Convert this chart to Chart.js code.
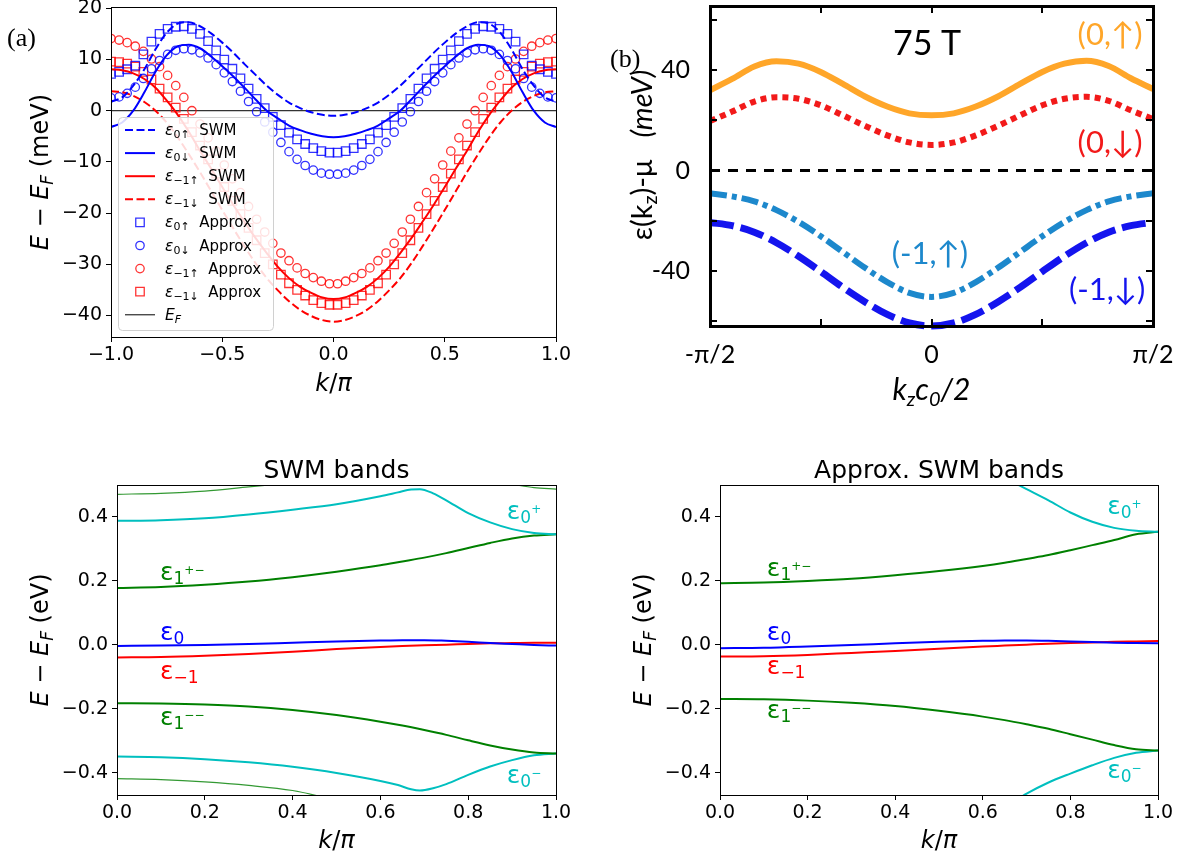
<!DOCTYPE html>
<html>
<head>
<meta charset="utf-8">
<title>Band panels</title>
<script src="https://cdn.jsdelivr.net/npm/chart.js@4.4.1/dist/chart.umd.min.js"></script>
<style>
  html, body { margin: 0; padding: 0; background: #fff; }
  body { position: relative; width: 1192px; height: 857px; overflow: hidden; }
  canvas { position: absolute; }
  #panelA { left: 0; top: 0; }
  #panelB { left: 600px; top: 0; }
  #panelC { left: 0; top: 440px; }
  #panelD { left: 600px; top: 440px; }
</style>
</head>
<body>
<canvas id="panelA" width="596" height="420"></canvas>
<canvas id="panelB" width="592" height="420"></canvas>
<canvas id="panelC" width="596" height="417"></canvas>
<canvas id="panelD" width="592" height="417"></canvas>
<script>
(function () {
  "use strict";

  /* ===== Panel (a) data: k/pi, meV ===== */
  var A_K_LINE = [-1, -0.95, -0.9, -0.85, -0.8, -0.75, -0.7, -0.65, -0.6, -0.55, -0.5, -0.45, -0.4, -0.35, -0.3, -0.25, -0.2, -0.15, -0.1, -0.05,
    0, 0.05, 0.1, 0.15, 0.2, 0.25, 0.3, 0.35, 0.4, 0.45, 0.5, 0.55, 0.6, 0.65, 0.7, 0.75, 0.8, 0.85, 0.9, 0.95, 1];
  var A_E0UP_SWM = [1.8, 2.6, 4.9, 8.1, 12.0, 15.2, 17.0, 17.3, 16.5, 15.1, 13.3, 11.3, 9.1, 7.0, 4.9, 3.1, 1.6, 0.5, -0.3, -0.8,
    -1.0, -0.8, -0.3, 0.5, 1.6, 3.1, 4.9, 7.0, 9.1, 11.3, 13.3, 15.1, 16.5, 17.3, 17.0, 15.2, 12.0, 8.1, 4.9, 2.6, 1.8];
  var A_E0DN_SWM = [-3.2, -2.3, 0.0, 3.6, 7.6, 10.8, 12.6, 12.9, 12.2, 10.6, 8.7, 6.7, 4.5, 2.2, 0.0, -1.5, -2.9, -3.8, -4.5, -5.0,
    -5.2, -5.0, -4.5, -3.8, -2.9, -1.5, 0.0, 2.2, 4.5, 6.7, 8.7, 10.6, 12.2, 12.9, 12.6, 10.8, 7.6, 3.6, 0.0, -2.3, -3.2];
  var A_EM1UP_SWM = [8.1, 7.9, 7.3, 6.2, 4.5, 2.0, -0.8, -4.1, -7.8, -11.3, -14.9, -18.4, -21.7, -24.9, -27.8, -30.5, -32.7, -34.4, -35.6, -36.5,
    -36.8, -36.5, -35.6, -34.4, -32.7, -30.5, -27.8, -24.9, -21.7, -18.4, -14.9, -11.3, -7.8, -4.1, -0.8, 2.0, 4.5, 6.2, 7.3, 7.9, 8.1];
  var A_EM1DN_SWM = [3.8, 3.6, 2.9, 1.7, 0.0, -2.3, -5.2, -8.5, -12.0, -15.7, -19.4, -23.0, -26.5, -29.8, -32.7, -35.1, -37.2, -38.9, -40.1, -40.9,
    -41.2, -40.9, -40.1, -38.9, -37.2, -35.1, -32.7, -29.8, -26.5, -23.0, -19.4, -15.7, -12.0, -8.5, -5.2, -2.3, 0.0, 1.7, 2.9, 3.6, 3.8];

  var A_K_MARK = [-1, -0.9636, -0.9273, -0.8909, -0.8545, -0.8182, -0.7818, -0.7455, -0.7091, -0.6727, -0.6364, -0.6, -0.5636, -0.5273,
    -0.4909, -0.4545, -0.4182, -0.3818, -0.3455, -0.3091, -0.2727, -0.2364, -0.2, -0.1636, -0.1273, -0.0909, -0.0545, -0.0182,
    0.0182, 0.0545, 0.0909, 0.1273, 0.1636, 0.2, 0.2364, 0.2727, 0.3091, 0.3455, 0.3818, 0.4182, 0.4545, 0.4909,
    0.5273, 0.5636, 0.6, 0.6364, 0.6727, 0.7091, 0.7455, 0.7818, 0.8182, 0.8545, 0.8909, 0.9273, 0.9636, 1];
  var A_E0UP_APX = [7.2, 7.6, 8.1, 8.8, 11.0, 13.5, 15.0, 16.0, 16.4, 16.5, 16.0, 15.0, 13.6, 11.8, 10.0, 8.2, 6.3, 4.3, 2.3, 0.5, -1.2, -2.8, -4.3, -5.6, -6.5, -7.3, -7.9, -8.2,
    -8.2, -7.9, -7.3, -6.5, -5.6, -4.3, -2.8, -1.2, 0.5, 2.3, 4.3, 6.3, 8.2, 10.0, 11.8, 13.6, 15.0, 16.0, 16.5, 16.4, 16.0, 15.0, 13.5, 11.0, 8.8, 8.1, 7.6, 7.2];
  var A_E0DN_APX = [2.5, 2.7, 3.4, 4.6, 6.3, 8.2, 9.8, 11.0, 11.8, 12.1, 11.9, 11.3, 10.3, 9.0, 7.4, 5.7, 3.8, 1.8, -0.2, -2.2, -4.2, -6.2, -8.0, -9.5, -10.7, -11.6, -12.2, -12.4,
    -12.4, -12.2, -11.6, -10.7, -9.5, -8.0, -6.2, -4.2, -2.2, -0.2, 1.8, 3.8, 5.7, 7.4, 9.0, 10.3, 11.3, 11.9, 12.1, 11.8, 11.0, 9.8, 8.2, 6.3, 4.6, 3.4, 2.7, 2.5];
  var A_EM1UP_APX = [14.1, 13.8, 13.3, 12.6, 11.6, 10.1, 8.6, 6.9, 4.9, 2.6, 0.0, -2.6, -5.3, -7.9, -10.6, -13.3, -16.0, -18.7, -21.2, -23.7, -25.9, -27.8, -29.3, -30.7, -31.8, -32.6, -33.3, -33.8,
    -33.8, -33.3, -32.6, -31.8, -30.7, -29.3, -27.8, -25.9, -23.7, -21.2, -18.7, -16.0, -13.3, -10.6, -7.9, -5.3, -2.6, 0.0, 2.6, 4.9, 6.9, 8.6, 10.1, 11.6, 12.6, 13.3, 13.8, 14.1];
  var A_EM1DN_APX = [9.6, 9.5, 9.2, 8.6, 7.6, 6.1, 4.3, 2.6, 0.6, -1.6, -4.2, -6.8, -9.5, -12.3, -14.9, -17.6, -20.2, -22.9, -25.3, -27.8, -30.0, -32.0, -33.7, -35.0, -36.1, -37.0, -37.6, -37.9,
    -37.9, -37.6, -37.0, -36.1, -35.0, -33.7, -32.0, -30.0, -27.8, -25.3, -22.9, -20.2, -17.6, -14.9, -12.3, -9.5, -6.8, -4.2, -1.6, 0.6, 2.6, 4.3, 6.1, 7.6, 8.6, 9.2, 9.5, 9.6];
  var A_EF_K = [-1, 1];
  var A_EF = [0, 0];

  /* ===== Panel (b) data: kz c0/2 in units of pi/2, meV ===== */
  var B_U = [-1, -0.9, -0.8, -0.7, -0.6, -0.5, -0.4, -0.3, -0.2, -0.1, 0, 0.1, 0.2, 0.3, 0.4, 0.5, 0.6, 0.7, 0.8, 0.9, 1];
  var B_0UP = [32.0, 36.5, 41.5, 43.6, 42.6, 39.3, 34.5, 29.5, 25.5, 22.8, 22.0, 22.8, 25.5, 29.5, 34.5, 39.3, 42.6, 43.8, 41.7, 36.8, 32.5];
  var B_0DN = [19.7, 23.5, 27.5, 29.2, 28.6, 26.0, 22.0, 17.8, 14.0, 11.2, 10.2, 11.2, 14.0, 17.8, 22.0, 26.0, 28.6, 29.4, 27.8, 24.0, 20.5];
  var B_M1UP = [-9.1, -10.3, -12.3, -15.8, -20.5, -26.2, -32.5, -38.8, -44.5, -48.8, -50.4, -48.8, -44.5, -38.8, -32.5, -26.2, -20.5, -15.8, -12.3, -10.3, -9.1];
  var B_M1DN = [-20.7, -22.0, -24.6, -28.8, -34.2, -40.3, -46.6, -52.4, -57.4, -60.8, -62.0, -60.8, -57.4, -52.4, -46.6, -40.3, -34.2, -28.8, -24.6, -22.0, -20.7];
  var B_ZERO_U = [-1, 1];
  var B_ZERO = [0, 0];
  var B_XLABELS = { "-1": "-\u03c0/2", "0": "0", "1": "\u03c0/2" };
  var B_YLABELS = [-40, 0, 40];

  /* ===== Panel (c) data: SWM bands, eV ===== */
  var C_U = [0, 0.1, 0.2, 0.3, 0.4, 0.5, 0.6, 0.65, 0.7, 0.75, 0.8, 0.85, 0.9, 0.95, 1];
  var C_U_CYAN = [0, 0.1, 0.2, 0.3, 0.4, 0.5, 0.6, 0.64, 0.67, 0.69, 0.72, 0.75, 0.8, 0.85, 0.9, 0.95, 1];
  var C_E1TOP = [0.471, 0.474, 0.481, 0.494, 0.507, 0.52, 0.535, 0.54, 0.54, 0.535, 0.524, 0.512, 0.502, 0.492, 0.487];
  var C_E0PLUS = [0.388, 0.390, 0.396, 0.408, 0.423, 0.440, 0.465, 0.477, 0.486, 0.487, 0.474, 0.452, 0.412, 0.383, 0.362, 0.350, 0.346];
  var C_E1PM = [0.178, 0.181, 0.188, 0.198, 0.212, 0.229, 0.249, 0.261, 0.273, 0.287, 0.303, 0.319, 0.333, 0.342, 0.346];
  var C_E0 = [-0.003, -0.002, 0.0, 0.003, 0.007, 0.011, 0.014, 0.015, 0.015, 0.013, 0.010, 0.006, 0.003, 0.0, -0.002];
  var C_EM1 = [-0.039, -0.038, -0.034, -0.028, -0.021, -0.013, -0.006, -0.003, -0.001, 0.001, 0.003, 0.005, 0.006, 0.007, 0.007];
  var C_E1MM = [-0.182, -0.183, -0.186, -0.192, -0.203, -0.219, -0.240, -0.252, -0.266, -0.281, -0.298, -0.314, -0.327, -0.336, -0.339];
  var C_E0MINUS = [-0.349, -0.351, -0.357, -0.367, -0.381, -0.400, -0.425, -0.438, -0.451, -0.455, -0.448, -0.435, -0.406, -0.380, -0.360, -0.345, -0.339];
  var C_E1BOT = [-0.418, -0.421, -0.428, -0.439, -0.455, -0.485, -0.51, -0.52, -0.525, -0.525, -0.52, -0.51, -0.5, -0.492, -0.488];

  /* ===== Panel (d) data: approx. SWM bands, eV ===== */
  var D_U = [0, 0.1, 0.2, 0.3, 0.4, 0.5, 0.6, 0.65, 0.7, 0.75, 0.8, 0.85, 0.9, 0.95, 1];
  var D_U_CYAN = [0.6, 0.65, 0.7, 0.75, 0.8, 0.85, 0.9, 0.95, 1];
  var D_U_TOP = [0.85, 0.9, 0.95, 1];
  var D_E1TOP = [0.53, 0.515, 0.503, 0.499];
  var D_E0PLUS = [0.558, 0.522, 0.487, 0.452, 0.414, 0.385, 0.366, 0.357, 0.354];
  var D_E1PM = [0.193, 0.195, 0.200, 0.207, 0.218, 0.231, 0.247, 0.257, 0.269, 0.281, 0.296, 0.312, 0.328, 0.346, 0.354];
  var D_E0 = [-0.010, -0.009, -0.005, 0.0, 0.005, 0.010, 0.013, 0.014, 0.014, 0.013, 0.011, 0.009, 0.007, 0.006, 0.005];
  var D_EM1 = [-0.036, -0.035, -0.031, -0.025, -0.019, -0.012, -0.005, -0.002, 0.001, 0.004, 0.006, 0.008, 0.010, 0.011, 0.012];
  var D_E1MM = [-0.169, -0.170, -0.174, -0.181, -0.191, -0.206, -0.224, -0.235, -0.248, -0.262, -0.279, -0.296, -0.313, -0.326, -0.330];
  var D_E0MINUS = [-0.56, -0.508, -0.465, -0.43, -0.402, -0.376, -0.353, -0.337, -0.330];

  /* ===== Colors / fonts ===== */
  var BLUE = "#0000ff";
  var RED = "#ff0000";
  var GREEN = "#008000";
  var CYAN = "#00bfbf";
  var SANS = "'DejaVu Sans'";
  var SERIF = "'Liberation Serif'";
  var LATO = "Lato";

  function pts(xs, ys) {
    return xs.map(function (x, i) { return { x: x, y: ys[i] }; });
  }

  function curve(xs, ys, color, width, extra) {
    var ds = {
      data: pts(xs, ys),
      borderColor: color,
      borderWidth: width,
      pointRadius: 0,
      cubicInterpolationMode: "monotone",
      fill: false
    };
    for (var key in (extra || {})) ds[key] = extra[key];
    return ds;
  }

  function markers(xs, ys, color, style, radius, extra) {
    var ds = {
      data: pts(xs, ys),
      showLine: false,
      pointStyle: style,
      pointRadius: radius,
      pointBorderWidth: 1.3,
      pointBorderColor: color,
      pointBackgroundColor: "rgba(0,0,0,0)",
      clip: 0
    };
    for (var key in (extra || {})) ds[key] = extra[key];
    return ds;
  }

  /* ===== rich text helpers (subscripts etc.) ===== */
  function tx(t, size, opts) {
    opts = opts || {};
    return {
      t: t,
      font: (opts.style ? opts.style + " " : "") + size + "px " + (opts.family || SANS),
      dy: opts.dy || 0,
      color: opts.color
    };
  }

  function richWidth(ctx, parts) {
    var w = 0;
    parts.forEach(function (p) { ctx.font = p.font; w += ctx.measureText(p.t).width; });
    return w;
  }

  function drawRich(ctx, parts, x, y, align, color, rotate) {
    ctx.save();
    ctx.translate(x, y);
    if (rotate) ctx.rotate(-Math.PI / 2);
    var w = richWidth(ctx, parts);
    var cx = align === "center" ? -w / 2 : (align === "right" ? -w : 0);
    ctx.textAlign = "left";
    ctx.textBaseline = "alphabetic";
    parts.forEach(function (p) {
      ctx.font = p.font;
      ctx.fillStyle = p.color || color || "#000";
      ctx.fillText(p.t, cx, p.dy);
      cx += ctx.measureText(p.t).width;
    });
    ctx.restore();
  }

  function mplAxis(axis, min, max, step, digits, size, pad) {
    return {
      type: "linear",
      min: min,
      max: max,
      afterFit: function (s) {
        if (axis === "x") { s.height = size; s.paddingLeft = 0; s.paddingRight = 0; }
        else { s.width = size; s.paddingTop = 0; s.paddingBottom = 0; }
      },
      ticks: {
        stepSize: step,
        includeBounds: false,
        autoSkip: false,
        maxRotation: 0,
        color: "#000",
        padding: pad,
        font: { family: "DejaVu Sans", size: 19 },
        callback: function (v) { return Number(v).toFixed(digits).replace("-", "\u2212"); }
      },
      grid: { drawOnChartArea: false, color: "#000", tickLength: 5, lineWidth: 1 },
      border: { display: true, color: "#000", width: 1 }
    };
  }

  function drawBox(chart, width) {
    var a = chart.chartArea, ctx = chart.ctx;
    ctx.save();
    ctx.strokeStyle = "#000";
    ctx.lineWidth = width;
    var off = width % 2 ? 0.5 : 0;
    ctx.strokeRect(Math.round(a.left) + off, Math.round(a.top) + off,
      Math.round(a.right) - Math.round(a.left), Math.round(a.bottom) - Math.round(a.top));
    ctx.restore();
  }

  function baseOptions(padding, xScale, yScale) {
    return {
      responsive: false,
      animation: false,
      events: [],
      layout: { padding: padding },
      plugins: { legend: { display: false }, tooltip: { enabled: false } },
      scales: { x: xScale, y: yScale }
    };
  }

  /* ===== Panel (a) ===== */
  var legendA = [
    { sub: "0\u2191", tag: "SWM" },
    { sub: "0\u2193", tag: "SWM" },
    { sub: "\u22121\u2191", tag: "SWM" },
    { sub: "\u22121\u2193", tag: "SWM" },
    { sub: "0\u2191", tag: "Approx" },
    { sub: "0\u2193", tag: "Approx" },
    { sub: "\u22121\u2191", tag: "Approx" },
    { sub: "\u22121\u2193", tag: "Approx" },
    { ef: true }
  ];

  var dsA = [
    curve(A_K_LINE, A_E0UP_SWM, BLUE, 2, { borderDash: [8, 3.5] }),
    curve(A_K_LINE, A_E0DN_SWM, BLUE, 2),
    curve(A_K_LINE, A_EM1UP_SWM, RED, 2),
    curve(A_K_LINE, A_EM1DN_SWM, RED, 2, { borderDash: [8, 3.5] }),
    markers(A_K_MARK, A_E0UP_APX, "rgba(0,0,255,0.8)", "rect", 6),
    markers(A_K_MARK, A_E0DN_APX, "rgba(0,0,255,0.8)", "circle", 4.2),
    markers(A_K_MARK, A_EM1UP_APX, "rgba(255,0,0,0.8)", "circle", 4.2),
    markers(A_K_MARK, A_EM1DN_APX, "rgba(255,0,0,0.8)", "rect", 6),
    curve(A_EF_K, A_EF, "#000", 1)
  ];

  var panelAPlugin = {
    id: "panelA",
    afterDatasetsDraw: function (chart) {
      var ctx = chart.ctx, a = chart.chartArea;
      drawBox(chart, 1);
      // legend, lower left inside the axes
      var x0 = a.left + 7, y0 = a.bottom - 7 - 213, w = 155, h = 213;
      ctx.save();
      ctx.fillStyle = "rgba(255,255,255,0.85)";
      ctx.strokeStyle = "#d0d0d0";
      ctx.lineWidth = 1;
      ctx.beginPath();
      ctx.roundRect(x0 + 0.5, y0 + 0.5, w, h, 4);
      ctx.fill();
      ctx.stroke();
      legendA.forEach(function (item, i) {
        var ds = chart.data.datasets[i];
        var cy = y0 + 13 + i * 23.1;
        ctx.save();
        if (ds.showLine === false) {
          ctx.strokeStyle = ds.pointBorderColor;
          ctx.lineWidth = ds.pointBorderWidth;
          ctx.beginPath();
          if (ds.pointStyle === "rect") {
            var s = ds.pointRadius * Math.SQRT1_2;
            ctx.rect(x0 + 22 - s, cy - s, 2 * s, 2 * s);
          } else {
            ctx.arc(x0 + 22, cy, ds.pointRadius, 0, Math.PI * 2);
          }
          ctx.stroke();
        } else {
          ctx.strokeStyle = ds.borderColor;
          ctx.lineWidth = ds.borderWidth;
          ctx.setLineDash(ds.borderDash || []);
          ctx.beginPath();
          ctx.moveTo(x0 + 7, cy);
          ctx.lineTo(x0 + 37, cy);
          ctx.stroke();
        }
        ctx.restore();
        var parts = item.ef
          ? [tx("E", 15.5, { style: "italic" }), tx("F", 11, { style: "italic", dy: 3 })]
          : [tx("\u03b5", 15.5, { style: "italic" }), tx(item.sub, 11, { dy: 3 }), tx("  " + item.tag, 15)];
        drawRich(ctx, parts, x0 + 47, cy + 5, "left", "#000");
      });
      ctx.restore();
    },
    afterDraw: function (chart) {
      var ctx = chart.ctx, a = chart.chartArea;
      drawRich(ctx, [tx("E", 24, { style: "italic" }), tx(" \u2212 ", 24), tx("E", 24, { style: "italic" }),
        tx("F", 17, { style: "italic", dy: 5 }), tx(" (meV)", 24)], 48, (a.top + a.bottom) / 2, "center", "#000", true);
      drawRich(ctx, [tx("k", 24, { style: "italic" }), tx("/", 24), tx("\u03c0", 24, { style: "italic" })],
        (a.left + a.right) / 2, 391, "center", "#000");
      drawRich(ctx, [tx("(a)", 26, { family: SERIF })], 7, 46, "left", "#000");
    }
  };

  new Chart(document.getElementById("panelA").getContext("2d"), {
    type: "line",
    data: { datasets: dsA },
    options: baseOptions({ top: 6, right: 40, left: 0, bottom: 0 },
      mplAxis("x", -1, 1, 0.5, 1, 83, 2),
      mplAxis("y", -44.2, 20.2, 10, 0, 111, 4)),
    plugins: [panelAPlugin]
  });

  /* ===== Panel (b) ===== */
  var dsB = [
    curve(B_ZERO_U, B_ZERO, "#000", 3, { borderDash: [10, 8], cubicInterpolationMode: "default" }),
    curve(B_U, B_0UP, "#ffa629", 6),
    curve(B_U, B_0DN, "#f21a1a", 6, { borderDash: [6, 5] }),
    curve(B_U, B_M1UP, "#1d88cc", 6, { borderDash: [17, 5, 5, 5] }),
    curve(B_U, B_M1DN, "#1414ee", 7, { borderDash: [24, 7], clip: { left: 0, right: 0, top: 0, bottom: 6 } })
  ];

  var panelBPlugin = {
    id: "panelB",
    afterDatasetsDraw: function (chart) {
      var ctx = chart.ctx, a = chart.chartArea;
      var xs = chart.scales.x, ys = chart.scales.y;
      drawBox(chart, 3);
      ctx.save();
      ctx.strokeStyle = "#000";
      ctx.lineWidth = 2;
      ctx.beginPath();
      xs.ticks.forEach(function (t) {
        var px = Math.round(xs.getPixelForValue(t.value));
        ctx.moveTo(px, a.bottom); ctx.lineTo(px, a.bottom - 7);
        ctx.moveTo(px, a.top); ctx.lineTo(px, a.top + 7);
      });
      ys.ticks.forEach(function (t) {
        var py = Math.round(ys.getPixelForValue(t.value));
        ctx.moveTo(a.left, py); ctx.lineTo(a.left + 7, py);
        ctx.moveTo(a.right, py); ctx.lineTo(a.right - 7, py);
      });
      ctx.stroke();
      ctx.restore();

      function at(u, v) { return [xs.getPixelForValue(u), ys.getPixelForValue(v)]; }
      var p;
      p = at(-0.02, 46); drawRich(ctx, [tx("75 T", 34, { family: LATO })], p[0], p[1], "center", "#000");
      p = at(0.806, 50); drawRich(ctx, [tx("(0,\u2191)", 31, { family: LATO })], p[0], p[1], "center", "#ffa629");
      p = at(0.806, 6.8); drawRich(ctx, [tx("(0,\u2193)", 31, { family: LATO })], p[0], p[1], "center", "#f21a1a");
      p = at(-0.007, -37.3); drawRich(ctx, [tx("(-1,\u2191)", 31, { family: LATO })], p[0], p[1], "center", "#1d88cc");
      p = at(0.793, -51.6); drawRich(ctx, [tx("(-1,\u2193)", 31, { family: LATO })], p[0], p[1], "center", "#1414ee");
    },
    afterDraw: function (chart) {
      var ctx = chart.ctx, a = chart.chartArea;
      drawRich(ctx, [tx("\u03b5(k", 29, { family: LATO }), tx("z", 20, { family: LATO, dy: 5 }),
        tx(")-\u03bc   ", 29, { family: LATO }), tx("(meV)", 29, { family: LATO, style: "italic" })],
        52, 155, "center", "#000", true);
      drawRich(ctx, [tx("k", 30, { family: LATO, style: "italic" }), tx("z", 20, { family: LATO, style: "italic", dy: 6 }),
        tx("c", 30, { family: LATO, style: "italic" }), tx("0", 20, { family: LATO, style: "italic", dy: 6 }),
        tx("/2", 30, { family: LATO, style: "italic" })], (a.left + a.right) / 2, 400, "center", "#000");
      drawRich(ctx, [tx("(b)", 26, { family: SERIF })], 10, 67, "left", "#000");
    }
  };

  new Chart(document.getElementById("panelB").getContext("2d"), {
    type: "line",
    data: { datasets: dsB },
    options: baseOptions({ top: 6, right: 39, left: 0, bottom: 0 },
      {
        type: "linear", min: -1, max: 1,
        afterFit: function (s) { s.height = 94; s.paddingLeft = 0; s.paddingRight = 0; },
        ticks: {
          stepSize: 0.5, autoSkip: false, maxRotation: 0, color: "#000", padding: 6,
          font: { family: LATO, size: 25 },
          callback: function (v) { return B_XLABELS[String(v)] || ""; }
        },
        grid: { display: false },
        border: { display: false }
      },
      {
        type: "linear", min: -62, max: 65.6,
        afterFit: function (s) { s.width = 110; s.paddingTop = 0; s.paddingBottom = 0; },
        ticks: {
          stepSize: 20, includeBounds: false, autoSkip: false, color: "#000", padding: 12,
          font: { family: LATO, size: 25 },
          callback: function (v) { return B_YLABELS.indexOf(v) >= 0 ? String(v) : ""; }
        },
        grid: { display: false },
        border: { display: false }
      }),
    plugins: [panelBPlugin]
  });

  /* ===== Panels (c) and (d) ===== */
  function epsLabel(sub, sup, color) {
    var parts = [tx("\u03b5", 25, { color: color }), tx(sub, 17, { dy: 4, color: color })];
    if (sup) parts.push(tx(sup, 12, { dy: -6, color: color }));
    return parts;
  }

  function bandsPlugin(id, title, label, labels) {
    return {
      id: id,
      afterDatasetsDraw: function (chart) {
        var ctx = chart.ctx;
        var xs = chart.scales.x, ys = chart.scales.y;
        drawBox(chart, 1);
        labels.forEach(function (l) {
          drawRich(ctx, l.parts, xs.getPixelForValue(l.u), ys.getPixelForValue(l.v), "left");
        });
      },
      afterDraw: function (chart) {
        var ctx = chart.ctx, a = chart.chartArea;
        drawRich(ctx, [tx(title, 25)], (a.left + a.right) / 2, 38, "center", "#000");
        drawRich(ctx, [tx("E", 24, { style: "italic" }), tx(" \u2212 ", 24), tx("E", 24, { style: "italic" }),
          tx("F", 17, { style: "italic", dy: 5 }), tx(" (eV)", 24)], a.left - 69, (a.top + a.bottom) / 2, "center", "#000", true);
        drawRich(ctx, [tx("k", 24, { style: "italic" }), tx("/", 24), tx("\u03c0", 24, { style: "italic" })],
          (a.left + a.right) / 2, 408, "center", "#000");
        drawRich(ctx, [tx(label, 26, { family: SERIF })], label === "(c)" ? 7 : 10, 506, "left", "#000");
      }
    };
  }

  var dsC = [
    curve(C_U, C_E1TOP, "rgba(0,128,0,0.8)", 1.2),
    curve(C_U_CYAN, C_E0PLUS, CYAN, 2),
    curve(C_U, C_E1PM, GREEN, 2),
    curve(C_U, C_E0, BLUE, 2),
    curve(C_U, C_EM1, RED, 2),
    curve(C_U, C_E1MM, GREEN, 2),
    curve(C_U_CYAN, C_E0MINUS, CYAN, 2),
    curve(C_U, C_E1BOT, "rgba(0,128,0,0.8)", 1.2)
  ];

  var labelsC = [
    { u: 0.098, v: 0.203, parts: epsLabel("1", "+\u2212", GREEN) },
    { u: 0.098, v: 0.016, parts: epsLabel("0", "", BLUE) },
    { u: 0.098, v: -0.106, parts: epsLabel("\u22121", "", RED) },
    { u: 0.098, v: -0.25, parts: epsLabel("1", "\u2212\u2212", GREEN) },
    { u: 0.888, v: 0.394, parts: epsLabel("0", "+", CYAN) },
    { u: 0.888, v: -0.431, parts: epsLabel("0", "\u2212", CYAN) }
  ];

  new Chart(document.getElementById("panelC").getContext("2d"), {
    type: "line",
    data: { datasets: dsC },
    options: baseOptions({ top: 45, right: 40, left: 0, bottom: 0 },
      mplAxis("x", 0, 1, 0.2, 1, 62, 2),
      mplAxis("y", -0.469, 0.5, 0.2, 1, 117, 4)),
    plugins: [bandsPlugin("panelC", "SWM bands", "(c)", labelsC)]
  });

  var dsD = [
    curve(D_U_TOP, D_E1TOP, "rgba(0,128,0,0.8)", 1.2),
    curve(D_U_CYAN, D_E0PLUS, CYAN, 2),
    curve(D_U, D_E1PM, GREEN, 2),
    curve(D_U, D_E0, BLUE, 2),
    curve(D_U, D_EM1, RED, 2),
    curve(D_U, D_E1MM, GREEN, 2),
    curve(D_U_CYAN, D_E0MINUS, CYAN, 2)
  ];

  var labelsD = [
    { u: 0.107, v: 0.216, parts: epsLabel("1", "+\u2212", GREEN) },
    { u: 0.107, v: 0.016, parts: epsLabel("0", "", BLUE) },
    { u: 0.107, v: -0.091, parts: epsLabel("\u22121", "", RED) },
    { u: 0.107, v: -0.228, parts: epsLabel("1", "\u2212\u2212", GREEN) },
    { u: 0.884, v: 0.409, parts: epsLabel("0", "+", CYAN) },
    { u: 0.884, v: -0.416, parts: epsLabel("0", "\u2212", CYAN) }
  ];

  new Chart(document.getElementById("panelD").getContext("2d"), {
    type: "line",
    data: { datasets: dsD },
    options: baseOptions({ top: 45, right: 34, left: 0, bottom: 0 },
      mplAxis("x", 0, 1, 0.2, 1, 62, 2),
      mplAxis("y", -0.469, 0.5, 0.2, 1, 120, 4)),
    plugins: [bandsPlugin("panelD", "Approx. SWM bands", "(d)", labelsD)]
  });
})();
</script>
</body>
</html>
